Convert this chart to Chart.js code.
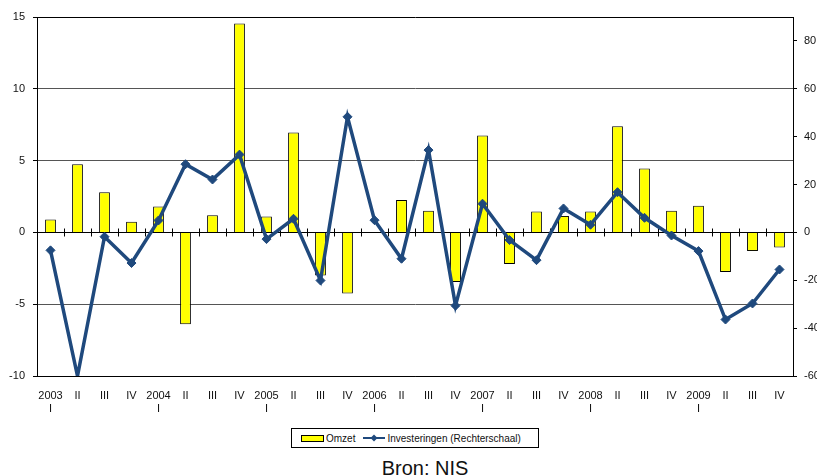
<!DOCTYPE html>
<html lang="nl">
<head>
<meta charset="UTF-8" />
<title>Omzet en investeringen</title>
<script src="https://cdn.jsdelivr.net/npm/chart.js"></script>
<style>
  body {
    margin: 0;
    background: #fff;
    font-family: 'Liberation Sans', Arial, sans-serif;
    color: #111;
    overflow: hidden;
  }
  #wrap { position: relative; width: 817px; height: 476px; }
  #chart { position: absolute; left: 0; top: 0; }

  /* legend box under the chart */
  .legend {
    position: absolute;
    left: 291px; top: 428px;
    width: 248px; height: 20px;
    border: 1px solid #000;
    font-size: 10px;
    display: flex;
    align-items: center;
    box-sizing: border-box;
    padding-left: 9px;
  }
  .swatch {
    display: inline-block;
    width: 21px; height: 5px;
    background: #ffff00;
    border: 1px solid #000;
  }
  .legend svg { margin-left: 8px; margin-right: 2px; }
  .source {
    position: absolute;
    left: 0; width: 850px;
    top: 458px;
    text-align: center;
    font-size: 20px;
    line-height: 20px;
    color: #111;
  }
</style>
</head>
<body>
<div id="wrap">
  <canvas id="chart" width="817" height="420"></canvas>
  <div class="legend">
    <span class="swatch"></span><span style="margin-left:2px">Omzet</span>
    <svg width="22" height="8" viewBox="0 0 22 8">
      <line x1="0" y1="4" x2="22" y2="4" stroke="#1f497d" stroke-width="2" />
      <polygon points="11,0.5 14.5,4 11,7.5 7.5,4" fill="#1f497d" />
    </svg>
    <span>Investeringen (Rechterschaal)</span>
  </div>
  <div class="source">Bron: NIS</div>
</div>

<script>
const labels = [
  ['2003', 'I'], 'II', 'III', 'IV',
  ['2004', 'I'], 'II', 'III', 'IV',
  ['2005', 'I'], 'II', 'III', 'IV',
  ['2006', 'I'], 'II', 'III', 'IV',
  ['2007', 'I'], 'II', 'III', 'IV',
  ['2008', 'I'], 'II', 'III', 'IV',
  ['2009', 'I'], 'II', 'III', 'IV'
];

// Omzet (left axis)
const omzet = [
  0.9, 4.75, 2.8, 0.75,
  1.8, -6.4, 1.2, 14.55,
  1.1, 6.95, -3.0, -4.25,
  0.0, 2.25, 1.5, -3.45,
  6.75, -2.2, 1.45, 1.15,
  1.45, 7.4, 4.45, 1.5,
  1.85, -2.75, -1.3, -1.05
];

// Investeringen (right axis)
const investeringen = [
  -7.5, -60, -1.8, -12.8,
  5.0, 28.5, 22.1, 32.5,
  -2.8, 5.7, -20.1, 48.3,
  5.1, -11.0, 34.4, -30.6,
  12.0, -3.2, -11.6, 10.0,
  3.2, 16.8, 6.1, -1.3,
  -7.8, -36.4, -29.7, -15.5
];

const blue = '#1f497d';

// black zero line with small category tick marks across it
const zeroLine = {
  id: 'zeroLine',
  beforeDatasetsDraw(chart) {
    const { ctx, chartArea, scales: { x, y } } = chart;
    const yz = Math.round(y.getPixelForValue(0)) + 0.5;
    ctx.save();
    ctx.strokeStyle = '#000';
    ctx.lineWidth = 1;
    ctx.beginPath();
    ctx.moveTo(chartArea.left, yz);
    ctx.lineTo(chartArea.right, yz);
    for (let i = 1; i < labels.length; i++) {
      const xb = Math.round((x.getPixelForTick(i - 1) + x.getPixelForTick(i)) / 2) + 0.5;
      ctx.moveTo(xb, yz - 4);
      ctx.lineTo(xb, yz + 4);
    }
    ctx.stroke();
    ctx.restore();
  }
};

const tickFont = { family: "'Liberation Sans', Arial, sans-serif", size: 11 };

new Chart(document.getElementById('chart'), {
  data: {
    labels: labels,
    datasets: [
      {
        type: 'line',
        label: 'Investeringen (Rechterschaal)',
        data: investeringen,
        yAxisID: 'y1',
        borderColor: blue,
        backgroundColor: blue,
        borderWidth: 3.5,
        pointStyle: 'rectRot',
        pointRadius: ctx => (ctx.raw <= -60 ? 0 : 4.5),
        pointBackgroundColor: blue,
        pointBorderColor: blue,
        pointBorderWidth: 1,
        tension: 0,
        order: 0
      },
      {
        type: 'bar',
        label: 'Omzet',
        data: omzet,
        yAxisID: 'y',
        backgroundColor: '#ffff00',
        borderColor: '#000',
        borderWidth: 1,
        categoryPercentage: 1,
        barPercentage: 0.4,
        order: 1
      }
    ]
  },
  options: {
    responsive: false,
    animation: false,
    layout: { padding: { left: 0, right: 0, top: 17, bottom: 0 } },
    plugins: {
      legend: { display: false },
      tooltip: { enabled: false }
    },
    scales: {
      x: {
        grid: { display: true, drawOnChartArea: false, drawTicks: false },
        border: { display: true, color: '#000', width: 1 },
        ticks: {
          autoSkip: false,
          maxRotation: 0,
          padding: 13,
          color: '#111',
          font: tickFont
        },
        afterFit: s => { s.height = 44; }
      },
      y: {
        position: 'left',
        min: -10,
        max: 15,
        ticks: { stepSize: 5, padding: 8, color: '#111', font: tickFont },
        grid: {
          color: c => (c.tick && (c.tick.value === 15 || c.tick.value === -10) ? '#000' : '#555'),
          tickColor: '#000',
          tickLength: 4,
          lineWidth: 1
        },
        border: { display: true, color: '#000', width: 1 },
        afterFit: s => { s.width = 37; }
      },
      y1: {
        position: 'right',
        min: -60,
        max: 90,
        ticks: { stepSize: 20, padding: 7, color: '#111', font: tickFont },
        afterBuildTicks: s => { s.ticks = s.ticks.filter(t => t.value !== 90); },
        grid: { drawOnChartArea: false, tickColor: '#000', tickLength: 4 },
        border: { display: true, color: '#000', width: 1 },
        afterFit: s => { s.width = 24; }
      }
    }
  },
  plugins: [zeroLine]
});
</script>
</body>
</html>
